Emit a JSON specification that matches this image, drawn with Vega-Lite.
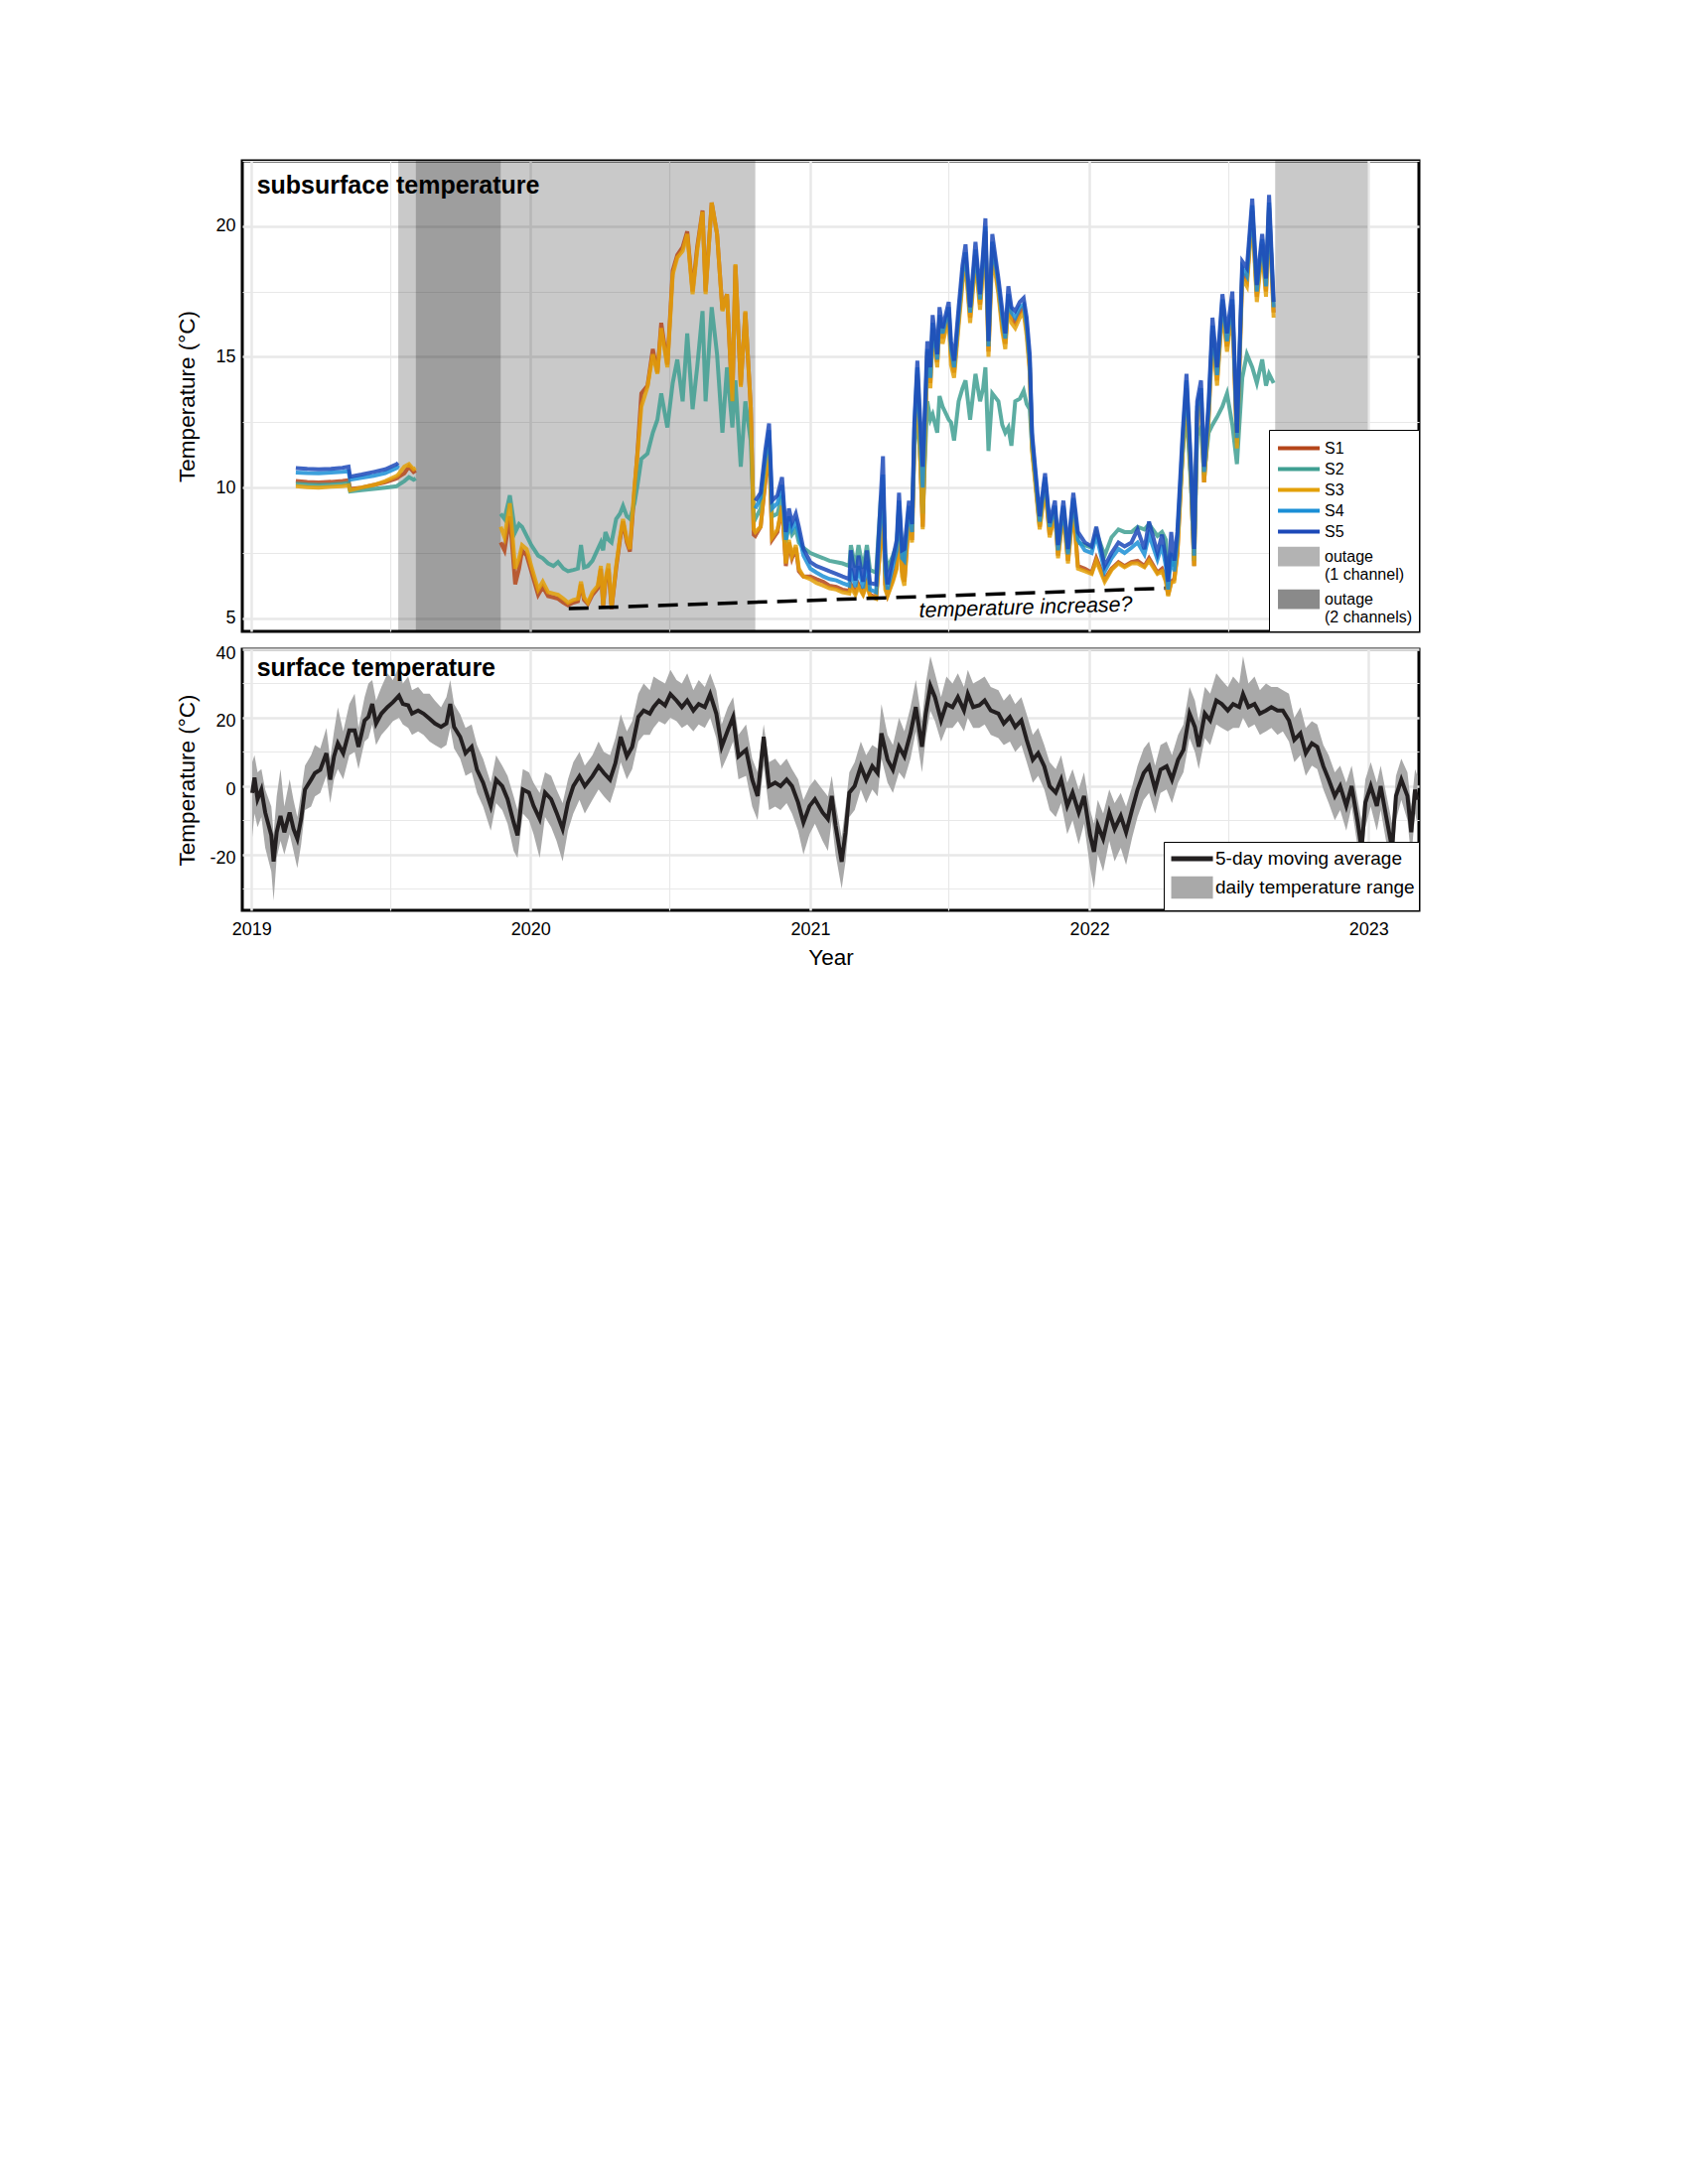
{
  "$schema": "https://vega.github.io/schema/vega-lite/v6.json",
  "background": "white",
  "padding": {"left": 175, "top": 160, "right": 20, "bottom": 20},
  "spacing": 9,
  "config": {
    "view": {"stroke": "black", "strokeWidth": 3},
    "font": "Liberation Sans",
    "axis": {"gridColor": "#e8e8e8", "ticks": false, "domain": false, "tickCount": 30, "labelFontSize": 18, "labelColor": "black", "titleFontSize": 22.5, "titleFontWeight": "normal", "titleColor": "black"}
  },
  "resolve": {"scale": {"color": "independent", "shape": "independent"}, "legend": {"color": "independent", "shape": "independent"}},
  "vconcat": [
    {
      "width": 1185,
      "height": 474,
      "layer": [
        {
          "data": {"values": [
            {"start": "2019-07-12", "end": "2020-10-21"},
            {"start": "2019-08-04", "end": "2019-11-23"},
            {"start": "2022-09-01", "end": "2022-12-31"}
          ]},
          "mark": {"type": "rect", "color": "black", "opacity": 0.21},
          "encoding": {
            "x": {"field": "start", "type": "temporal",
              "scale": {"domain": [{"year": 2018, "month": 12, "date": 20}, {"year": 2023, "month": 3, "date": 8}], "nice": false},
              "axis": {"title": null, "labels": false,
                "values": [{"year": 2019, "month": 1, "date": 1}, {"year": 2019, "month": 7, "date": 1}, {"year": 2020, "month": 1, "date": 1}, {"year": 2020, "month": 7, "date": 1}, {"year": 2021, "month": 1, "date": 1}, {"year": 2021, "month": 7, "date": 1}, {"year": 2022, "month": 1, "date": 1}, {"year": 2022, "month": 7, "date": 1}, {"year": 2023, "month": 1, "date": 1}],
                "gridWidth": {"condition": {"test": "month(datum.value) == 0", "value": 2.5}, "value": 1.2}}},
            "x2": {"field": "end"}
          }
        },
        {
          "data": {"values": [
            {"d": "2019-02-28", "S1": 10.25, "S2": 10.15, "S3": 10.05, "S4": 10.58, "S5": 10.75},
            {"d": "2019-03-15", "S1": 10.22, "S2": 10.12, "S3": 10.02, "S4": 10.56, "S5": 10.72},
            {"d": "2019-03-30", "S1": 10.2, "S2": 10.1, "S3": 10.0, "S4": 10.55, "S5": 10.7},
            {"d": "2019-04-15", "S1": 10.22, "S2": 10.12, "S3": 10.03, "S4": 10.58, "S5": 10.72},
            {"d": "2019-04-30", "S1": 10.25, "S2": 10.15, "S3": 10.05, "S4": 10.6, "S5": 10.76},
            {"d": "2019-05-08", "S1": 10.28, "S2": 10.18, "S3": 10.08, "S4": 10.62, "S5": 10.8},
            {"d": "2019-05-10", "S1": 9.95, "S2": 9.85, "S3": 9.9, "S4": 10.3, "S5": 10.42},
            {"d": "2019-05-25", "S1": 10.0, "S2": 9.9, "S3": 10.0, "S4": 10.38, "S5": 10.5},
            {"d": "2019-06-10", "S1": 10.1, "S2": 9.95, "S3": 10.1, "S4": 10.45, "S5": 10.6},
            {"d": "2019-06-25", "S1": 10.2, "S2": 10.0, "S3": 10.25, "S4": 10.55, "S5": 10.7},
            {"d": "2019-07-10", "S1": 10.35, "S2": 10.05, "S3": 10.45, "S4": 10.75, "S5": 10.9},
            {"d": "2019-07-12", "S1": 10.4, "S2": 10.1, "S3": 10.5, "S4": 10.85, "S5": 10.95},
            {"d": "2019-07-20", "S1": 10.55, "S2": 10.25, "S3": 10.8},
            {"d": "2019-07-26", "S1": 10.8, "S2": 10.4, "S3": 10.9},
            {"d": "2019-08-01", "S1": 10.6, "S2": 10.3, "S3": 10.7},
            {"d": "2019-08-04", "S1": 10.65, "S2": 10.35, "S3": 10.75},
            {"d": "2019-09-30"},
            {"d": "2019-11-23", "S1": 7.9, "S2": 9.0, "S3": 8.5},
            {"d": "2019-11-28", "S1": 7.6, "S2": 8.8, "S3": 8.1},
            {"d": "2019-12-05", "S1": 8.9, "S2": 9.7, "S3": 9.4},
            {"d": "2019-12-12", "S1": 6.3, "S2": 8.3, "S3": 6.9},
            {"d": "2019-12-17", "S1": 6.9, "S2": 8.6, "S3": 7.3},
            {"d": "2019-12-21", "S1": 7.6, "S2": 8.5, "S3": 7.8},
            {"d": "2019-12-27", "S1": 7.4, "S2": 8.15, "S3": 7.65},
            {"d": "2020-01-02", "S1": 6.8, "S2": 7.8, "S3": 7.0},
            {"d": "2020-01-11", "S1": 5.9, "S2": 7.4, "S3": 6.1},
            {"d": "2020-01-17", "S1": 6.2, "S2": 7.3, "S3": 6.4},
            {"d": "2020-01-24", "S1": 5.85, "S2": 7.1, "S3": 6.0},
            {"d": "2020-01-31", "S1": 5.8, "S2": 7.0, "S3": 5.95},
            {"d": "2020-02-06", "S1": 5.75, "S2": 7.15, "S3": 5.9},
            {"d": "2020-02-13", "S1": 5.6, "S2": 6.9, "S3": 5.75},
            {"d": "2020-02-19", "S1": 5.5, "S2": 6.8, "S3": 5.6},
            {"d": "2020-02-26", "S1": 5.6, "S2": 6.85, "S3": 5.7},
            {"d": "2020-03-03", "S1": 5.65, "S2": 6.9, "S3": 5.75},
            {"d": "2020-03-07", "S1": 6.3, "S2": 7.8, "S3": 6.4},
            {"d": "2020-03-11", "S1": 5.7, "S2": 6.95, "S3": 5.8},
            {"d": "2020-03-16", "S1": 5.55, "S2": 7.0, "S3": 5.6},
            {"d": "2020-03-22", "S1": 5.9, "S2": 7.2, "S3": 6.0},
            {"d": "2020-03-29", "S1": 6.15, "S2": 7.65, "S3": 6.25},
            {"d": "2020-04-02", "S1": 6.9, "S2": 7.9, "S3": 7.0},
            {"d": "2020-04-05", "S1": 5.45, "S2": 7.6, "S3": 5.5},
            {"d": "2020-04-08", "S1": 6.4, "S2": 8.3, "S3": 6.5},
            {"d": "2020-04-12", "S1": 6.9, "S2": 8.0, "S3": 7.1},
            {"d": "2020-04-16", "S1": 5.35, "S2": 7.9, "S3": 5.4},
            {"d": "2020-04-22", "S1": 6.9, "S2": 8.8, "S3": 7.0},
            {"d": "2020-04-27", "S1": 8.0, "S2": 9.0, "S3": 8.1},
            {"d": "2020-05-01", "S1": 8.7, "S2": 9.3, "S3": 8.8},
            {"d": "2020-05-06", "S1": 7.9, "S2": 8.9, "S3": 8.0},
            {"d": "2020-05-10", "S1": 7.55, "S2": 8.8, "S3": 7.65},
            {"d": "2020-05-16", "S1": 9.9, "S2": 9.4, "S3": 10.05},
            {"d": "2020-05-20", "S1": 11.4, "S2": 10.1, "S3": 11.3},
            {"d": "2020-05-25", "S1": 13.6, "S2": 11.1, "S3": 13.1},
            {"d": "2020-06-02", "S1": 13.9, "S2": 11.3, "S3": 13.85},
            {"d": "2020-06-09", "S1": 15.3, "S2": 12.1, "S3": 15.1},
            {"d": "2020-06-15", "S1": 14.4, "S2": 12.6, "S3": 14.35},
            {"d": "2020-06-20", "S1": 16.3, "S2": 13.6, "S3": 16.1},
            {"d": "2020-06-28", "S1": 14.7, "S2": 12.3, "S3": 14.6},
            {"d": "2020-07-05", "S1": 18.3, "S2": 14.0, "S3": 18.15},
            {"d": "2020-07-11", "S1": 18.9, "S2": 14.9, "S3": 18.8},
            {"d": "2020-07-18", "S1": 19.2, "S2": 13.3, "S3": 19.05},
            {"d": "2020-07-24", "S1": 19.8, "S2": 15.9, "S3": 19.7},
            {"d": "2020-07-31", "S1": 17.5, "S2": 13.0, "S3": 17.4},
            {"d": "2020-08-06", "S1": 19.2, "S2": 14.6, "S3": 19.05},
            {"d": "2020-08-13", "S1": 20.6, "S2": 16.75, "S3": 20.55},
            {"d": "2020-08-17", "S1": 17.5, "S2": 13.3, "S3": 17.4},
            {"d": "2020-08-25", "S1": 20.9, "S2": 16.9, "S3": 20.9},
            {"d": "2020-09-01", "S1": 19.7, "S2": 15.1, "S3": 19.7},
            {"d": "2020-09-08", "S1": 16.8, "S2": 12.1, "S3": 16.75},
            {"d": "2020-09-14", "S1": 17.4, "S2": 14.6, "S3": 17.4},
            {"d": "2020-09-21", "S1": 13.3, "S2": 12.3, "S3": 13.3},
            {"d": "2020-09-25", "S1": 18.5, "S2": 14.1, "S3": 18.55},
            {"d": "2020-10-02", "S1": 13.9, "S2": 10.8, "S3": 13.85},
            {"d": "2020-10-08", "S1": 16.7, "S2": 13.3, "S3": 16.75},
            {"d": "2020-10-15", "S1": 13.1, "S2": 11.8, "S3": 13.1},
            {"d": "2020-10-19", "S1": 8.2, "S2": 8.9, "S3": 8.4},
            {"d": "2020-10-21", "S1": 8.15, "S2": 8.8, "S3": 8.3, "S4": 9.2, "S5": 9.5},
            {"d": "2020-10-28", "S1": 8.5, "S2": 9.2, "S3": 8.5, "S4": 9.6, "S5": 9.8},
            {"d": "2020-11-03", "S1": 10.2, "S2": 10.8, "S3": 10.3, "S4": 11.1, "S5": 11.4},
            {"d": "2020-11-08", "S1": 11.6, "S2": 11.9, "S3": 11.7, "S4": 12.2, "S5": 12.45},
            {"d": "2020-11-12", "S1": 8.0, "S2": 8.9, "S3": 8.1, "S4": 9.2, "S5": 9.5},
            {"d": "2020-11-19", "S1": 8.3, "S2": 9.0, "S3": 8.4, "S4": 9.4, "S5": 9.7},
            {"d": "2020-11-25", "S1": 9.3, "S2": 9.7, "S3": 9.3, "S4": 10.1, "S5": 10.4},
            {"d": "2020-11-30", "S1": 7.0, "S2": 7.9, "S3": 7.1, "S4": 8.0, "S5": 8.3},
            {"d": "2020-12-04", "S1": 7.9, "S2": 8.6, "S3": 8.0, "S4": 8.9, "S5": 9.2},
            {"d": "2020-12-08", "S1": 7.3, "S2": 8.2, "S3": 7.4, "S4": 8.4, "S5": 8.65},
            {"d": "2020-12-13", "S1": 7.7, "S2": 8.4, "S3": 7.8, "S4": 8.7, "S5": 9.0},
            {"d": "2020-12-17", "S1": 6.8, "S2": 7.9, "S3": 6.9, "S4": 8.2, "S5": 8.5},
            {"d": "2020-12-23", "S1": 6.6, "S2": 7.7, "S3": 6.6, "S4": 7.4, "S5": 7.65},
            {"d": "2021-01-01", "S1": 6.6, "S2": 7.5, "S3": 6.5, "S4": 6.9, "S5": 7.15},
            {"d": "2021-01-09", "S1": 6.5, "S2": 7.4, "S3": 6.35, "S4": 6.75, "S5": 7.0},
            {"d": "2021-01-18", "S1": 6.4, "S2": 7.3, "S3": 6.25, "S4": 6.6, "S5": 6.9},
            {"d": "2021-01-26", "S1": 6.25, "S2": 7.2, "S3": 6.15, "S4": 6.5, "S5": 6.8},
            {"d": "2021-02-04", "S1": 6.2, "S2": 7.15, "S3": 6.1, "S4": 6.45, "S5": 6.7},
            {"d": "2021-02-12", "S1": 6.1, "S2": 7.1, "S3": 6.0, "S4": 6.35, "S5": 6.6},
            {"d": "2021-02-21", "S1": 6.05, "S2": 7.0, "S3": 5.95, "S4": 6.25, "S5": 6.5},
            {"d": "2021-02-23", "S1": 6.3, "S2": 7.8, "S3": 6.2, "S4": 6.9, "S5": 7.6},
            {"d": "2021-03-01", "S1": 6.0, "S2": 6.95, "S3": 5.9, "S4": 6.2, "S5": 6.45},
            {"d": "2021-03-05", "S1": 6.3, "S2": 7.8, "S3": 6.2, "S4": 7.0, "S5": 7.4},
            {"d": "2021-03-11", "S1": 5.95, "S2": 6.9, "S3": 5.9, "S4": 6.15, "S5": 6.4},
            {"d": "2021-03-16", "S1": 6.4, "S2": 7.8, "S3": 6.3, "S4": 7.2, "S5": 7.6},
            {"d": "2021-03-20", "S1": 5.9, "S2": 6.85, "S3": 5.85, "S4": 6.1, "S5": 6.35},
            {"d": "2021-03-28", "S1": 5.8, "S2": 6.75, "S3": 5.75, "S4": 6.0, "S5": 6.3},
            {"d": "2021-04-03", "S1": 8.0, "S2": 9.5, "S3": 7.9, "S4": 9.0, "S5": 9.6},
            {"d": "2021-04-06", "S1": 9.8, "S2": 10.0, "S3": 9.7, "S4": 10.5, "S5": 11.2},
            {"d": "2021-04-09", "S1": 6.3, "S2": 7.5, "S3": 6.1, "S4": 6.8, "S5": 7.3},
            {"d": "2021-04-12", "S1": 5.9, "S2": 6.9, "S3": 5.85, "S4": 6.1, "S5": 6.3},
            {"d": "2021-04-19", "S1": 6.5, "S2": 7.4, "S3": 6.4, "S4": 7.0, "S5": 7.3},
            {"d": "2021-04-24", "S1": 7.0, "S2": 7.8, "S3": 6.9, "S4": 7.6, "S5": 8.0},
            {"d": "2021-04-27", "S1": 9.0, "S2": 9.3, "S3": 8.9, "S4": 9.5, "S5": 9.8},
            {"d": "2021-05-01", "S1": 6.8, "S2": 7.5, "S3": 6.6, "S4": 7.3, "S5": 7.6},
            {"d": "2021-05-04", "S1": 6.4, "S2": 7.3, "S3": 6.25, "S4": 7.2, "S5": 7.65},
            {"d": "2021-05-10", "S1": 9.0, "S2": 9.1, "S3": 8.8, "S4": 9.3, "S5": 9.5},
            {"d": "2021-05-14", "S1": 8.0, "S2": 8.5, "S3": 7.9, "S4": 8.3, "S5": 8.6},
            {"d": "2021-05-17", "S1": 11.8, "S2": 11.5, "S3": 11.6, "S4": 12.2, "S5": 12.45},
            {"d": "2021-05-21", "S1": 14.3, "S2": 13.0, "S3": 14.35, "S4": 14.6, "S5": 14.85},
            {"d": "2021-05-25", "S1": 11.0, "S2": 11.0, "S3": 10.8, "S4": 11.9, "S5": 12.4},
            {"d": "2021-05-28", "S1": 8.5, "S2": 9.0, "S3": 8.4, "S4": 10.0, "S5": 10.8},
            {"d": "2021-06-03", "S1": 15.2, "S2": 13.3, "S3": 15.0, "S4": 15.3, "S5": 15.6},
            {"d": "2021-06-07", "S1": 14.0, "S2": 12.6, "S3": 13.8, "S4": 14.2, "S5": 14.6},
            {"d": "2021-06-10", "S1": 16.1, "S2": 12.8, "S3": 15.9, "S4": 16.3, "S5": 16.6},
            {"d": "2021-06-16", "S1": 14.8, "S2": 12.1, "S3": 14.6, "S4": 14.9, "S5": 15.1},
            {"d": "2021-06-19", "S1": 16.5, "S2": 13.5, "S3": 16.3, "S4": 16.6, "S5": 16.9},
            {"d": "2021-06-23", "S1": 15.7, "S2": 13.1, "S3": 15.5, "S4": 15.9, "S5": 16.1},
            {"d": "2021-07-01", "S1": 16.7, "S2": 12.6, "S3": 16.5, "S4": 16.9, "S5": 17.1},
            {"d": "2021-07-04", "S1": 15.0, "S2": 12.5, "S3": 14.7, "S4": 15.3, "S5": 15.6},
            {"d": "2021-07-08", "S1": 14.4, "S2": 11.8, "S3": 14.2, "S4": 14.6, "S5": 14.85},
            {"d": "2021-07-14", "S1": 16.4, "S2": 13.3, "S3": 16.2, "S4": 16.6, "S5": 16.9},
            {"d": "2021-07-19", "S1": 18.0, "S2": 13.8, "S3": 17.8, "S4": 18.2, "S5": 18.5},
            {"d": "2021-07-23", "S1": 18.8, "S2": 14.1, "S3": 18.6, "S4": 19.0, "S5": 19.3},
            {"d": "2021-07-29", "S1": 16.5, "S2": 12.6, "S3": 16.3, "S4": 16.7, "S5": 16.9},
            {"d": "2021-08-05", "S1": 18.9, "S2": 14.35, "S3": 18.7, "S4": 19.1, "S5": 19.4},
            {"d": "2021-08-11", "S1": 17.0, "S2": 13.3, "S3": 16.8, "S4": 17.2, "S5": 17.4},
            {"d": "2021-08-15", "S1": 18.6, "S2": 13.8, "S3": 18.4, "S4": 18.8, "S5": 19.0},
            {"d": "2021-08-18", "S1": 19.8, "S2": 14.6, "S3": 19.6, "S4": 20.0, "S5": 20.3},
            {"d": "2021-08-22", "S1": 15.2, "S2": 11.4, "S3": 15.0, "S4": 15.4, "S5": 15.6},
            {"d": "2021-08-27", "S1": 19.2, "S2": 13.6, "S3": 19.0, "S4": 19.4, "S5": 19.7},
            {"d": "2021-09-04", "S1": 17.6, "S2": 13.3, "S3": 17.4, "S4": 17.8, "S5": 18.0},
            {"d": "2021-09-09", "S1": 16.2, "S2": 12.4, "S3": 16.0, "S4": 16.5, "S5": 16.8},
            {"d": "2021-09-13", "S1": 15.5, "S2": 12.1, "S3": 15.3, "S4": 15.7, "S5": 15.9},
            {"d": "2021-09-17", "S1": 17.2, "S2": 12.3, "S3": 17.0, "S4": 17.4, "S5": 17.7},
            {"d": "2021-09-21", "S1": 16.5, "S2": 11.6, "S3": 16.3, "S4": 16.7, "S5": 16.9},
            {"d": "2021-09-26", "S1": 16.3, "S2": 13.3, "S3": 16.1, "S4": 16.5, "S5": 16.75},
            {"d": "2021-10-02", "S1": 16.7, "S2": 13.4, "S3": 16.5, "S4": 16.9, "S5": 17.1},
            {"d": "2021-10-07", "S1": 16.9, "S2": 13.7, "S3": 16.7, "S4": 17.0, "S5": 17.25},
            {"d": "2021-10-11", "S1": 16.0, "S2": 13.2, "S3": 15.8, "S4": 16.2, "S5": 16.5},
            {"d": "2021-10-15", "S1": 14.6, "S2": 13.0, "S3": 14.4, "S4": 14.8, "S5": 15.1},
            {"d": "2021-10-18", "S1": 11.6, "S2": 11.5, "S3": 11.4, "S4": 11.9, "S5": 12.1},
            {"d": "2021-10-22", "S1": 10.4, "S2": 10.4, "S3": 10.2, "S4": 10.6, "S5": 10.8},
            {"d": "2021-10-28", "S1": 8.5, "S2": 8.6, "S3": 8.4, "S4": 8.7, "S5": 8.9},
            {"d": "2021-11-04", "S1": 10.2, "S2": 10.2, "S3": 10.0, "S4": 10.4, "S5": 10.55},
            {"d": "2021-11-10", "S1": 8.2, "S2": 8.4, "S3": 8.1, "S4": 8.5, "S5": 8.65},
            {"d": "2021-11-17", "S1": 9.1, "S2": 9.2, "S3": 9.0, "S4": 9.3, "S5": 9.5},
            {"d": "2021-11-21", "S1": 7.4, "S2": 7.7, "S3": 7.3, "S4": 7.6, "S5": 7.8},
            {"d": "2021-11-28", "S1": 9.1, "S2": 9.2, "S3": 9.0, "S4": 9.3, "S5": 9.5},
            {"d": "2021-12-04", "S1": 7.2, "S2": 7.5, "S3": 7.1, "S4": 7.45, "S5": 7.65},
            {"d": "2021-12-11", "S1": 9.3, "S2": 9.4, "S3": 9.2, "S4": 9.6, "S5": 9.8},
            {"d": "2021-12-17", "S1": 7.0, "S2": 7.9, "S3": 6.9, "S4": 8.0, "S5": 8.3},
            {"d": "2021-12-26", "S1": 6.9, "S2": 7.8, "S3": 6.8, "S4": 7.6, "S5": 7.9},
            {"d": "2022-01-04", "S1": 6.75, "S2": 7.7, "S3": 6.7, "S4": 7.5, "S5": 7.75},
            {"d": "2022-01-10", "S1": 7.3, "S2": 8.3, "S3": 7.2, "S4": 8.2, "S5": 8.5},
            {"d": "2022-01-21", "S1": 6.5, "S2": 7.4, "S3": 6.4, "S4": 6.8, "S5": 7.0},
            {"d": "2022-01-30", "S1": 6.9, "S2": 8.1, "S3": 6.85, "S4": 7.3, "S5": 7.5},
            {"d": "2022-02-08", "S1": 7.15, "S2": 8.4, "S3": 7.1, "S4": 7.65, "S5": 7.9},
            {"d": "2022-02-16", "S1": 7.0, "S2": 8.3, "S3": 6.95, "S4": 7.5, "S5": 7.75},
            {"d": "2022-02-25", "S1": 7.15, "S2": 8.3, "S3": 7.1, "S4": 7.7, "S5": 7.9},
            {"d": "2022-03-05", "S1": 7.2, "S2": 8.5, "S3": 7.1, "S4": 7.9, "S5": 8.4},
            {"d": "2022-03-14", "S1": 7.0, "S2": 8.4, "S3": 6.95, "S4": 7.45, "S5": 7.65},
            {"d": "2022-03-20", "S1": 7.3, "S2": 8.6, "S3": 7.2, "S4": 8.2, "S5": 8.7},
            {"d": "2022-03-31", "S1": 6.75, "S2": 8.15, "S3": 6.7, "S4": 7.25, "S5": 7.5},
            {"d": "2022-04-06", "S1": 6.9, "S2": 8.3, "S3": 6.8, "S4": 7.8, "S5": 8.2},
            {"d": "2022-04-11", "S1": 6.5, "S2": 8.0, "S3": 6.4, "S4": 7.0, "S5": 7.3},
            {"d": "2022-04-14", "S1": 5.9, "S2": 6.5, "S3": 5.85, "S4": 6.1, "S5": 6.4},
            {"d": "2022-04-18", "S1": 6.4, "S2": 7.3, "S3": 6.35, "S4": 7.5, "S5": 8.3},
            {"d": "2022-04-22", "S1": 6.5, "S2": 7.0, "S3": 6.4, "S4": 6.8, "S5": 7.2},
            {"d": "2022-04-26", "S1": 7.5, "S2": 8.0, "S3": 7.4, "S4": 8.0, "S5": 8.3},
            {"d": "2022-05-03", "S1": 11.5, "S2": 11.3, "S3": 11.3, "S4": 11.8, "S5": 12.1},
            {"d": "2022-05-08", "S1": 13.8, "S2": 13.0, "S3": 13.6, "S4": 14.1, "S5": 14.35},
            {"d": "2022-05-14", "S1": 10.2, "S2": 10.0, "S3": 10.2, "S4": 10.6, "S5": 10.8},
            {"d": "2022-05-18", "S1": 7.0, "S2": 7.2, "S3": 7.0, "S4": 7.4, "S5": 7.65},
            {"d": "2022-05-22", "S1": 12.9, "S2": 12.0, "S3": 12.7, "S4": 13.1, "S5": 13.3},
            {"d": "2022-05-27", "S1": 13.6, "S2": 12.3, "S3": 13.4, "S4": 13.8, "S5": 14.1},
            {"d": "2022-05-31", "S1": 10.2, "S2": 10.5, "S3": 10.2, "S4": 10.6, "S5": 10.8},
            {"d": "2022-06-06", "S1": 12.8, "S2": 12.1, "S3": 12.6, "S4": 13.0, "S5": 13.3},
            {"d": "2022-06-11", "S1": 16.0, "S2": 12.4, "S3": 15.8, "S4": 16.2, "S5": 16.5},
            {"d": "2022-06-17", "S1": 14.1, "S2": 12.7, "S3": 13.9, "S4": 14.3, "S5": 14.6},
            {"d": "2022-06-24", "S1": 17.0, "S2": 13.1, "S3": 16.8, "S4": 17.2, "S5": 17.4},
            {"d": "2022-06-30", "S1": 15.4, "S2": 13.6, "S3": 15.2, "S4": 15.6, "S5": 15.9},
            {"d": "2022-07-07", "S1": 17.0, "S2": 12.4, "S3": 16.8, "S4": 17.2, "S5": 17.5},
            {"d": "2022-07-13", "S1": 11.7, "S2": 10.9, "S3": 11.5, "S4": 11.9, "S5": 12.1},
            {"d": "2022-07-20", "S1": 18.2, "S2": 14.2, "S3": 18.0, "S4": 18.4, "S5": 18.65},
            {"d": "2022-07-26", "S1": 17.9, "S2": 15.1, "S3": 17.7, "S4": 18.1, "S5": 18.4},
            {"d": "2022-08-02", "S1": 20.6, "S2": 14.6, "S3": 20.4, "S4": 20.8, "S5": 21.05},
            {"d": "2022-08-08", "S1": 17.3, "S2": 14.0, "S3": 17.1, "S4": 17.5, "S5": 17.75},
            {"d": "2022-08-15", "S1": 19.3, "S2": 14.9, "S3": 19.1, "S4": 19.5, "S5": 19.7},
            {"d": "2022-08-20", "S1": 17.5, "S2": 13.9, "S3": 17.3, "S4": 17.7, "S5": 18.0},
            {"d": "2022-08-24", "S1": 20.7, "S2": 14.35, "S3": 20.5, "S4": 20.9, "S5": 21.2},
            {"d": "2022-08-30", "S1": 16.7, "S2": 14.0, "S3": 16.5, "S4": 16.9, "S5": 17.1}
          ]},
          "transform": [{"fold": ["S1", "S2", "S3", "S4", "S5"], "as": ["series", "temp"]}],
          "mark": {"type": "line", "strokeWidth": 4, "opacity": 0.85, "invalid": "break-paths-filter-domains"},
          "encoding": {
            "x": {"field": "d", "type": "temporal"},
            "y": {"field": "temp", "type": "quantitative",
              "scale": {"domain": [4.5, 22.5], "nice": false, "zero": false},
              "axis": {"title": "Temperature (°C)", "titleX": -44, "labelPadding": 7,
                "values": [5, 7.5, 10, 12.5, 15, 17.5, 20, 22.5],
                "labelExpr": "datum.value % 5 == 0 ? '' + datum.value : ''",
                "gridWidth": {"condition": {"test": "datum.value % 5 == 0", "value": 2.5}, "value": 1.2}}},
            "color": {"field": "series", "type": "nominal",
              "scale": {"domain": ["S1", "S2", "S3", "S4", "S5", "outage (1 channel)", "outage (2 channels)"],
                "range": ["#b5461a", "#3f9f92", "#e3a008", "#1b8fd6", "#1c49b8", "#b3b3b3", "#8a8a8a"]},
              "legend": {"title": null, "orient": "bottom-right", "offset": 0, "padding": 6, "zindex": 1,
                "strokeColor": "black", "fillColor": "white", "labelLimit": 300,
                "symbolSize": 441, "symbolStrokeWidth": 4, "symbolOpacity": 1, "symbolFillColor": "transparent",
                "labelFontSize": 16, "labelOffset": 25, "rowPadding": 0, "labelColor": "black",
                "labelExpr": "indexof(datum.label, 'outage') == 0 ? ['outage', substring(datum.label, 7)] : datum.label"}}
          }
        },
        {
          "data": {"values": [{"d": "2020-02-20", "t": 5.37}, {"d": "2022-04-10", "t": 6.15}]},
          "mark": {"type": "line", "color": "black", "strokeWidth": 3.5, "strokeDash": [20, 10]},
          "encoding": {"x": {"field": "d", "type": "temporal"}, "y": {"field": "t", "type": "quantitative"}}
        },
        {
          "data": {"values": [{"label": "temperature increase?", "d": "2021-10-10", "t": 5.16}]},
          "mark": {"type": "text", "fontStyle": "italic", "fontSize": 21.5, "angle": 358.3, "align": "center", "baseline": "alphabetic"},
          "encoding": {"x": {"field": "d", "type": "temporal"}, "y": {"field": "t", "type": "quantitative"}, "text": {"field": "label"}}
        },
        {
          "data": {"values": [{"label": "subsurface temperature", "d": "2019-01-08", "t": 21.26}]},
          "mark": {"type": "text", "fontWeight": "bold", "fontSize": 25, "align": "left", "baseline": "alphabetic"},
          "encoding": {"x": {"field": "d", "type": "temporal"}, "y": {"field": "t", "type": "quantitative"}, "text": {"field": "label"}}
        },
        {
          "data": {"values": [
            {"series": "S1"}, {"series": "S2"}, {"series": "S3"}, {"series": "S4"}, {"series": "S5"},
            {"series": "outage (1 channel)"}, {"series": "outage (2 channels)"}
          ]},
          "mark": {"type": "point", "opacity": 0},
          "encoding": {
            "color": {"field": "series", "type": "nominal",
              "legend": {"title": null, "orient": "bottom-right", "offset": 0, "padding": 6, "zindex": 1,
                "strokeColor": "black", "fillColor": "white", "labelLimit": 300,
                "symbolSize": 441, "symbolStrokeWidth": 4, "symbolOpacity": 1, "symbolFillColor": "transparent",
                "labelFontSize": 16, "labelOffset": 25, "rowPadding": 0, "labelColor": "black",
                "labelExpr": "indexof(datum.label, 'outage') == 0 ? ['outage', substring(datum.label, 7)] : datum.label"}},
            "shape": {"field": "series", "type": "nominal",
              "scale": {"domain": ["S1", "S2", "S3", "S4", "S5", "outage (1 channel)", "outage (2 channels)"],
                "range": ["M-0.9,0H3.1", "M-0.9,0H3.1", "M-0.9,0H3.1", "M-0.9,0H3.1", "M-0.9,0H3.1",
                  "M-0.9,-0.75H3.1M-0.9,-0.5H3.1M-0.9,-0.25H3.1M-0.9,0H3.1M-0.9,0.25H3.1M-0.9,0.5H3.1M-0.9,0.75H3.1",
                  "M-0.9,-0.75H3.1M-0.9,-0.5H3.1M-0.9,-0.25H3.1M-0.9,0H3.1M-0.9,0.25H3.1M-0.9,0.5H3.1M-0.9,0.75H3.1"]},
              "legend": {"title": null, "orient": "bottom-right", "offset": 0, "padding": 6, "zindex": 1,
                "strokeColor": "black", "fillColor": "white", "labelLimit": 300,
                "symbolSize": 441, "symbolStrokeWidth": 4, "symbolOpacity": 1, "symbolFillColor": "transparent",
                "labelFontSize": 16, "labelOffset": 25, "rowPadding": 0, "labelColor": "black",
                "labelExpr": "indexof(datum.label, 'outage') == 0 ? ['outage', substring(datum.label, 7)] : datum.label"}}
          }
        }
      ]
    },
    {
      "width": 1185,
      "height": 263,
      "layer": [
        {
          "data": {"name": "surface", "values": [
            {"d": "2019-01-02", "m": -2, "lo": -15, "hi": 7},
            {"d": "2019-01-05", "m": 2.5, "lo": -8, "hi": 9},
            {"d": "2019-01-09", "m": -3.8, "lo": -12, "hi": 4},
            {"d": "2019-01-14", "m": -1, "lo": -9, "hi": 5},
            {"d": "2019-01-19", "m": -7.7, "lo": -18, "hi": -1},
            {"d": "2019-01-27", "m": -14.4, "lo": -25, "hi": -6},
            {"d": "2019-01-30", "m": -22, "lo": -33.5, "hi": -14},
            {"d": "2019-02-03", "m": -13.5, "lo": -21, "hi": -3},
            {"d": "2019-02-08", "m": -8.7, "lo": -16, "hi": 5},
            {"d": "2019-02-13", "m": -13.5, "lo": -20, "hi": -6},
            {"d": "2019-02-20", "m": -7.7, "lo": -14, "hi": 2},
            {"d": "2019-02-25", "m": -12.5, "lo": -19, "hi": -4},
            {"d": "2019-03-02", "m": -15.4, "lo": -24, "hi": -9},
            {"d": "2019-03-07", "m": -9.6, "lo": -17, "hi": -2},
            {"d": "2019-03-12", "m": -1, "lo": -7, "hi": 6},
            {"d": "2019-03-20", "m": 1.9, "lo": -6, "hi": 9},
            {"d": "2019-03-25", "m": 3.8, "lo": -3, "hi": 12},
            {"d": "2019-04-01", "m": 4.8, "lo": -2, "hi": 11},
            {"d": "2019-04-09", "m": 9.6, "lo": 3, "hi": 17},
            {"d": "2019-04-14", "m": 1.9, "lo": -5, "hi": 8},
            {"d": "2019-04-19", "m": 8.7, "lo": 2, "hi": 16},
            {"d": "2019-04-24", "m": 12.5, "lo": 5, "hi": 23},
            {"d": "2019-05-01", "m": 9.6, "lo": 2, "hi": 16},
            {"d": "2019-05-09", "m": 16.3, "lo": 9, "hi": 24},
            {"d": "2019-05-16", "m": 16.3, "lo": 10, "hi": 27},
            {"d": "2019-05-21", "m": 11.5, "lo": 5, "hi": 17},
            {"d": "2019-05-29", "m": 19.2, "lo": 13, "hi": 26},
            {"d": "2019-06-03", "m": 20.2, "lo": 14, "hi": 30},
            {"d": "2019-06-08", "m": 24, "lo": 18, "hi": 31},
            {"d": "2019-06-13", "m": 18.3, "lo": 12, "hi": 25},
            {"d": "2019-06-20", "m": 21.2, "lo": 15, "hi": 29},
            {"d": "2019-06-28", "m": 23.1, "lo": 17, "hi": 33},
            {"d": "2019-07-05", "m": 24.5, "lo": 19, "hi": 31},
            {"d": "2019-07-13", "m": 26.4, "lo": 20, "hi": 35},
            {"d": "2019-07-18", "m": 24, "lo": 18, "hi": 30},
            {"d": "2019-07-25", "m": 23.6, "lo": 17, "hi": 32},
            {"d": "2019-07-30", "m": 21.2, "lo": 15, "hi": 28},
            {"d": "2019-08-07", "m": 22.1, "lo": 16, "hi": 29},
            {"d": "2019-08-14", "m": 21.2, "lo": 15, "hi": 27},
            {"d": "2019-08-22", "m": 19.7, "lo": 13, "hi": 27},
            {"d": "2019-08-29", "m": 18.3, "lo": 12, "hi": 25},
            {"d": "2019-09-06", "m": 17.3, "lo": 11, "hi": 23},
            {"d": "2019-09-13", "m": 18.3, "lo": 12, "hi": 26},
            {"d": "2019-09-18", "m": 24, "lo": 17, "hi": 31},
            {"d": "2019-09-23", "m": 17.3, "lo": 11, "hi": 24},
            {"d": "2019-10-01", "m": 14.4, "lo": 8, "hi": 21},
            {"d": "2019-10-08", "m": 9.6, "lo": 3, "hi": 17},
            {"d": "2019-10-16", "m": 11.5, "lo": 4, "hi": 18},
            {"d": "2019-10-23", "m": 4.8, "lo": -2, "hi": 12},
            {"d": "2019-10-31", "m": 1, "lo": -6, "hi": 8},
            {"d": "2019-11-10", "m": -5.8, "lo": -13, "hi": 1},
            {"d": "2019-11-17", "m": 1.9, "lo": -5, "hi": 9},
            {"d": "2019-11-25", "m": 0, "lo": -7, "hi": 6},
            {"d": "2019-12-02", "m": -3.8, "lo": -11, "hi": 3},
            {"d": "2019-12-10", "m": -10.6, "lo": -19, "hi": -3},
            {"d": "2019-12-15", "m": -14.4, "lo": -21, "hi": -7},
            {"d": "2019-12-22", "m": -1, "lo": -8, "hi": 5},
            {"d": "2019-12-30", "m": -1.9, "lo": -10, "hi": 4},
            {"d": "2020-01-05", "m": -5.8, "lo": -14, "hi": 1},
            {"d": "2020-01-13", "m": -9.6, "lo": -21, "hi": -2},
            {"d": "2020-01-20", "m": -1.9, "lo": -9, "hi": 4},
            {"d": "2020-01-28", "m": -3.8, "lo": -12, "hi": 3},
            {"d": "2020-02-04", "m": -7.7, "lo": -16, "hi": -1},
            {"d": "2020-02-12", "m": -12.5, "lo": -22, "hi": -5},
            {"d": "2020-02-19", "m": -4.8, "lo": -13, "hi": 2},
            {"d": "2020-02-26", "m": 0, "lo": -8, "hi": 7},
            {"d": "2020-03-05", "m": 2.9, "lo": -4, "hi": 10},
            {"d": "2020-03-12", "m": 0, "lo": -8, "hi": 6},
            {"d": "2020-03-22", "m": 2.9, "lo": -4, "hi": 9},
            {"d": "2020-03-30", "m": 5.8, "lo": -1, "hi": 13},
            {"d": "2020-04-06", "m": 3.8, "lo": -3, "hi": 10},
            {"d": "2020-04-14", "m": 1.9, "lo": -5, "hi": 9},
            {"d": "2020-04-21", "m": 6.7, "lo": 0, "hi": 14},
            {"d": "2020-04-28", "m": 14.4, "lo": 7, "hi": 21},
            {"d": "2020-05-06", "m": 8.7, "lo": 2, "hi": 16},
            {"d": "2020-05-13", "m": 11.5, "lo": 5, "hi": 19},
            {"d": "2020-05-21", "m": 20.2, "lo": 13, "hi": 27},
            {"d": "2020-05-28", "m": 22.1, "lo": 15, "hi": 30},
            {"d": "2020-06-05", "m": 21.2, "lo": 15, "hi": 28},
            {"d": "2020-06-10", "m": 23.1, "lo": 17, "hi": 32},
            {"d": "2020-06-17", "m": 25, "lo": 19, "hi": 31},
            {"d": "2020-06-25", "m": 23.6, "lo": 18, "hi": 30},
            {"d": "2020-07-02", "m": 26.9, "lo": 20, "hi": 34},
            {"d": "2020-07-10", "m": 25, "lo": 19, "hi": 31},
            {"d": "2020-07-17", "m": 23.1, "lo": 17, "hi": 30},
            {"d": "2020-07-24", "m": 25, "lo": 18, "hi": 33},
            {"d": "2020-08-01", "m": 22.1, "lo": 16, "hi": 28},
            {"d": "2020-08-08", "m": 24, "lo": 18, "hi": 31},
            {"d": "2020-08-16", "m": 23.1, "lo": 17, "hi": 29},
            {"d": "2020-08-23", "m": 26.9, "lo": 20, "hi": 33},
            {"d": "2020-08-31", "m": 21.2, "lo": 14, "hi": 28},
            {"d": "2020-09-07", "m": 11.5, "lo": 5, "hi": 18},
            {"d": "2020-09-15", "m": 16.3, "lo": 9, "hi": 23},
            {"d": "2020-09-22", "m": 20.2, "lo": 13, "hi": 26},
            {"d": "2020-09-29", "m": 8.7, "lo": 2, "hi": 15},
            {"d": "2020-10-09", "m": 10.6, "lo": 3, "hi": 18},
            {"d": "2020-10-17", "m": 1.9, "lo": -6, "hi": 8},
            {"d": "2020-10-24", "m": -2.9, "lo": -10, "hi": 4},
            {"d": "2020-11-01", "m": 14.4, "lo": 6, "hi": 18},
            {"d": "2020-11-08", "m": 0, "lo": -7, "hi": 7},
            {"d": "2020-11-16", "m": 1, "lo": -6, "hi": 8},
            {"d": "2020-11-23", "m": 0, "lo": -7, "hi": 6},
            {"d": "2020-12-01", "m": 1.9, "lo": -5, "hi": 8},
            {"d": "2020-12-08", "m": 0, "lo": -8, "hi": 5},
            {"d": "2020-12-16", "m": -4.8, "lo": -13, "hi": 2},
            {"d": "2020-12-23", "m": -10.6, "lo": -20, "hi": -4},
            {"d": "2020-12-31", "m": -5.8, "lo": -14, "hi": 0},
            {"d": "2021-01-07", "m": -3.8, "lo": -11, "hi": 2},
            {"d": "2021-01-17", "m": -7.7, "lo": -16, "hi": -1},
            {"d": "2021-01-24", "m": -9.6, "lo": -19, "hi": -3},
            {"d": "2021-01-29", "m": -2.9, "lo": -10, "hi": 3},
            {"d": "2021-02-03", "m": -11.5, "lo": -20, "hi": -5},
            {"d": "2021-02-11", "m": -22.1, "lo": -30, "hi": -15},
            {"d": "2021-02-16", "m": -13.5, "lo": -22, "hi": -6},
            {"d": "2021-02-21", "m": -1.9, "lo": -9, "hi": 4},
            {"d": "2021-02-28", "m": 0, "lo": -7, "hi": 7},
            {"d": "2021-03-08", "m": 5.8, "lo": -1, "hi": 13},
            {"d": "2021-03-15", "m": 1.9, "lo": -5, "hi": 9},
            {"d": "2021-03-23", "m": 5.8, "lo": -1, "hi": 12},
            {"d": "2021-03-30", "m": 3.8, "lo": -3, "hi": 11},
            {"d": "2021-04-04", "m": 15.4, "lo": 8, "hi": 24},
            {"d": "2021-04-12", "m": 7.7, "lo": 1, "hi": 15},
            {"d": "2021-04-19", "m": 4.8, "lo": -2, "hi": 12},
            {"d": "2021-04-27", "m": 11.5, "lo": 4, "hi": 20},
            {"d": "2021-05-04", "m": 8.7, "lo": 2, "hi": 16},
            {"d": "2021-05-12", "m": 15.4, "lo": 8, "hi": 23},
            {"d": "2021-05-19", "m": 23.1, "lo": 16, "hi": 31},
            {"d": "2021-05-27", "m": 11.5, "lo": 4, "hi": 19},
            {"d": "2021-06-01", "m": 21.2, "lo": 14, "hi": 30},
            {"d": "2021-06-07", "m": 29.3, "lo": 22, "hi": 38},
            {"d": "2021-06-13", "m": 26, "lo": 19, "hi": 33},
            {"d": "2021-06-21", "m": 19.2, "lo": 13, "hi": 26},
            {"d": "2021-06-28", "m": 24, "lo": 17, "hi": 32},
            {"d": "2021-07-06", "m": 23.1, "lo": 17, "hi": 30},
            {"d": "2021-07-13", "m": 26, "lo": 19, "hi": 33},
            {"d": "2021-07-21", "m": 22.1, "lo": 16, "hi": 29},
            {"d": "2021-07-26", "m": 26.9, "lo": 20, "hi": 34},
            {"d": "2021-08-02", "m": 23.1, "lo": 17, "hi": 30},
            {"d": "2021-08-10", "m": 23.6, "lo": 17, "hi": 31},
            {"d": "2021-08-17", "m": 25, "lo": 18, "hi": 32},
            {"d": "2021-08-25", "m": 22.1, "lo": 15, "hi": 29},
            {"d": "2021-09-04", "m": 21.2, "lo": 14, "hi": 28},
            {"d": "2021-09-11", "m": 18.3, "lo": 12, "hi": 25},
            {"d": "2021-09-19", "m": 20.2, "lo": 13, "hi": 27},
            {"d": "2021-09-26", "m": 17.3, "lo": 10, "hi": 24},
            {"d": "2021-10-04", "m": 19.2, "lo": 12, "hi": 26},
            {"d": "2021-10-11", "m": 13.5, "lo": 7, "hi": 21},
            {"d": "2021-10-19", "m": 7.7, "lo": 1, "hi": 15},
            {"d": "2021-10-26", "m": 9.6, "lo": 3, "hi": 17},
            {"d": "2021-11-03", "m": 5.8, "lo": -1, "hi": 12},
            {"d": "2021-11-10", "m": 0, "lo": -7, "hi": 7},
            {"d": "2021-11-18", "m": -1.9, "lo": -9, "hi": 5},
            {"d": "2021-11-25", "m": 1.9, "lo": -5, "hi": 9},
            {"d": "2021-12-03", "m": -5.8, "lo": -14, "hi": 1},
            {"d": "2021-12-10", "m": -1.9, "lo": -10, "hi": 5},
            {"d": "2021-12-18", "m": -7.7, "lo": -17, "hi": -1},
            {"d": "2021-12-25", "m": -2.9, "lo": -11, "hi": 4},
            {"d": "2022-01-02", "m": -14.4, "lo": -24, "hi": -7},
            {"d": "2022-01-07", "m": -19.2, "lo": -30, "hi": -11},
            {"d": "2022-01-12", "m": -11.5, "lo": -20, "hi": -4},
            {"d": "2022-01-19", "m": -15.4, "lo": -25, "hi": -8},
            {"d": "2022-01-27", "m": -7.7, "lo": -16, "hi": -1},
            {"d": "2022-02-03", "m": -12.5, "lo": -22, "hi": -5},
            {"d": "2022-02-11", "m": -8.7, "lo": -18, "hi": -2},
            {"d": "2022-02-18", "m": -13.5, "lo": -23, "hi": -6},
            {"d": "2022-02-26", "m": -6.7, "lo": -15, "hi": 0},
            {"d": "2022-03-05", "m": -1, "lo": -9, "hi": 6},
            {"d": "2022-03-13", "m": 3.8, "lo": -4, "hi": 11},
            {"d": "2022-03-20", "m": 5.8, "lo": -2, "hi": 13},
            {"d": "2022-03-28", "m": -1, "lo": -8, "hi": 6},
            {"d": "2022-04-04", "m": 4.8, "lo": -2, "hi": 12},
            {"d": "2022-04-12", "m": 5.8, "lo": -1, "hi": 13},
            {"d": "2022-04-19", "m": 1.9, "lo": -5, "hi": 9},
            {"d": "2022-04-27", "m": 7.7, "lo": 1, "hi": 15},
            {"d": "2022-05-04", "m": 10.6, "lo": 4, "hi": 18},
            {"d": "2022-05-12", "m": 21.2, "lo": 14, "hi": 29},
            {"d": "2022-05-19", "m": 17.3, "lo": 10, "hi": 25},
            {"d": "2022-05-24", "m": 11.5, "lo": 5, "hi": 19},
            {"d": "2022-06-01", "m": 21.2, "lo": 14, "hi": 29},
            {"d": "2022-06-08", "m": 19.2, "lo": 12, "hi": 27},
            {"d": "2022-06-16", "m": 25, "lo": 18, "hi": 33},
            {"d": "2022-06-23", "m": 24, "lo": 17, "hi": 31},
            {"d": "2022-07-01", "m": 22.1, "lo": 16, "hi": 29},
            {"d": "2022-07-08", "m": 24, "lo": 17, "hi": 32},
            {"d": "2022-07-16", "m": 23.1, "lo": 17, "hi": 30},
            {"d": "2022-07-21", "m": 26.9, "lo": 20, "hi": 38},
            {"d": "2022-07-28", "m": 23.1, "lo": 17, "hi": 30},
            {"d": "2022-08-05", "m": 24, "lo": 18, "hi": 32},
            {"d": "2022-08-12", "m": 21.2, "lo": 15, "hi": 28},
            {"d": "2022-08-20", "m": 22.1, "lo": 16, "hi": 30},
            {"d": "2022-08-27", "m": 23.1, "lo": 17, "hi": 29},
            {"d": "2022-09-04", "m": 22.1, "lo": 15, "hi": 29},
            {"d": "2022-09-11", "m": 22.1, "lo": 16, "hi": 28},
            {"d": "2022-09-19", "m": 19.2, "lo": 13, "hi": 27},
            {"d": "2022-09-26", "m": 13.5, "lo": 7, "hi": 20},
            {"d": "2022-10-04", "m": 15.4, "lo": 9, "hi": 23},
            {"d": "2022-10-11", "m": 9.6, "lo": 3, "hi": 17},
            {"d": "2022-10-19", "m": 12.5, "lo": 6, "hi": 19},
            {"d": "2022-10-26", "m": 11.5, "lo": 5, "hi": 18},
            {"d": "2022-11-03", "m": 5.8, "lo": -1, "hi": 12},
            {"d": "2022-11-10", "m": 1.9, "lo": -5, "hi": 9},
            {"d": "2022-11-18", "m": -2.9, "lo": -10, "hi": 4},
            {"d": "2022-11-25", "m": 0, "lo": -7, "hi": 6},
            {"d": "2022-12-03", "m": -5.8, "lo": -13, "hi": 1},
            {"d": "2022-12-10", "m": 0, "lo": -6, "hi": 6},
            {"d": "2022-12-18", "m": -10.6, "lo": -18, "hi": -4},
            {"d": "2022-12-23", "m": -18.3, "lo": -26, "hi": -10},
            {"d": "2022-12-28", "m": -4.8, "lo": -12, "hi": 2},
            {"d": "2023-01-04", "m": 0, "lo": -6, "hi": 7},
            {"d": "2023-01-12", "m": -5.8, "lo": -13, "hi": 1},
            {"d": "2023-01-17", "m": 0, "lo": -7, "hi": 6},
            {"d": "2023-01-24", "m": -8.7, "lo": -16, "hi": -2},
            {"d": "2023-02-01", "m": -18.3, "lo": -27, "hi": -11},
            {"d": "2023-02-06", "m": -2.9, "lo": -10, "hi": 3},
            {"d": "2023-02-13", "m": 1.9, "lo": -4, "hi": 8},
            {"d": "2023-02-21", "m": -2.9, "lo": -10, "hi": 4},
            {"d": "2023-02-26", "m": -13.5, "lo": -21, "hi": -6},
            {"d": "2023-03-03", "m": -1, "lo": -8, "hi": 5},
            {"d": "2023-03-06", "m": -4, "lo": -11, "hi": 3}
          ]},
          "mark": {"type": "area", "color": "#a9a9a9"},
          "encoding": {
            "x": {"field": "d", "type": "temporal",
              "scale": {"domain": [{"year": 2018, "month": 12, "date": 20}, {"year": 2023, "month": 3, "date": 8}], "nice": false},
              "axis": {"title": "Year", "format": "%Y", "labelPadding": 10, "titlePadding": 8,
                "values": [{"year": 2019, "month": 1, "date": 1}, {"year": 2019, "month": 7, "date": 1}, {"year": 2020, "month": 1, "date": 1}, {"year": 2020, "month": 7, "date": 1}, {"year": 2021, "month": 1, "date": 1}, {"year": 2021, "month": 7, "date": 1}, {"year": 2022, "month": 1, "date": 1}, {"year": 2022, "month": 7, "date": 1}, {"year": 2023, "month": 1, "date": 1}],
                "labelExpr": "month(datum.value) == 0 ? datum.label : ''",
                "gridWidth": {"condition": {"test": "month(datum.value) == 0", "value": 2.5}, "value": 1.2}}},
            "y": {"field": "lo", "type": "quantitative",
              "scale": {"domain": [-36.3, 40], "nice": false, "zero": false},
              "axis": {"title": "Temperature (°C)", "titleX": -44, "labelPadding": 7, "labelOffset": 4, "tickCount": 30,
                "values": [-30, -20, -10, 0, 10, 20, 30, 40],
                "labelExpr": "datum.value % 20 == 0 ? '' + datum.value : ''",
                "gridWidth": {"condition": {"test": "datum.value % 20 == 0", "value": 2.5}, "value": 1.2}}},
            "y2": {"field": "hi"}
          }
        },
        {
          "data": {"name": "surface"},
          "mark": {"type": "line", "strokeWidth": 4, "color": "#231f20"},
          "encoding": {
            "x": {"field": "d", "type": "temporal"},
            "y": {"field": "m", "type": "quantitative"}
          }
        },
        {
          "data": {"values": [{"label": "surface temperature", "d": "2019-01-08", "t": 32.2}]},
          "mark": {"type": "text", "fontWeight": "bold", "fontSize": 25, "align": "left", "baseline": "alphabetic"},
          "encoding": {"x": {"field": "d", "type": "temporal"}, "y": {"field": "t", "type": "quantitative"}, "text": {"field": "label"}}
        },
        {
          "data": {"values": [{"k": "5-day moving average"}, {"k": "daily temperature range"}]},
          "mark": {"type": "point", "opacity": 0},
          "encoding": {
            "color": {"field": "k", "type": "nominal",
              "scale": {"domain": ["5-day moving average", "daily temperature range"], "range": ["#231f20", "#a9a9a9"]},
              "legend": {"title": null, "orient": "bottom-right", "offset": 0, "padding": 4, "zindex": 1,
                "strokeColor": "black", "fillColor": "white", "labelLimit": 400,
                "symbolSize": 441, "symbolStrokeWidth": 5, "symbolOpacity": 1, "symbolFillColor": "transparent",
                "labelFontSize": 19, "labelOffset": 22, "rowPadding": 0, "labelColor": "black"}},
            "shape": {"field": "k", "type": "nominal",
              "scale": {"domain": ["5-day moving average", "daily temperature range"],
                "range": ["M-0.9,0H3.1", "M-0.9,-0.84H3.1M-0.9,-0.56H3.1M-0.9,-0.28H3.1M-0.9,0H3.1M-0.9,0.28H3.1M-0.9,0.56H3.1M-0.9,0.84H3.1"]},
              "legend": {"title": null, "orient": "bottom-right", "offset": 0, "padding": 4, "zindex": 1,
                "strokeColor": "black", "fillColor": "white", "labelLimit": 400,
                "symbolSize": 441, "symbolStrokeWidth": 5, "symbolOpacity": 1, "symbolFillColor": "transparent",
                "labelFontSize": 19, "labelOffset": 22, "rowPadding": 0, "labelColor": "black"}}
          }
        }
      ]
    }
  ]
}
